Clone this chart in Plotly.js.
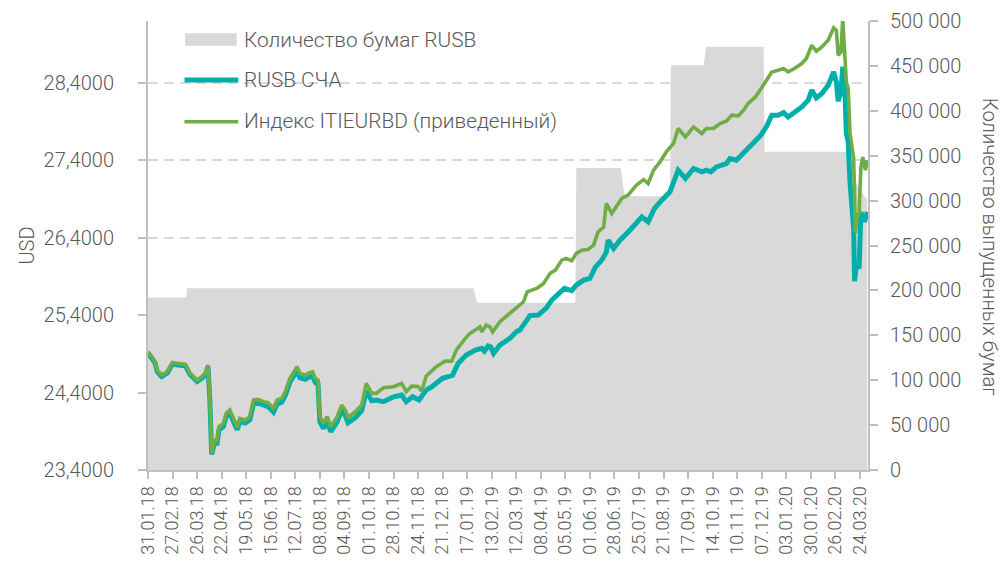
<!DOCTYPE html>
<html><head><meta charset="utf-8">
<script src="https://cdn.plot.ly/plotly-3.0.1.min.js"></script>
<style>html,body{margin:0;padding:0;background:#fff}#chart{width:1002px;height:563px}</style>
</head><body><div id="chart"></div>
<script>
const seriesNames = ['Количество бумаг RUSB', 'RUSB СЧА', 'Индекс ITIEURBD (приведенный)'];
const leftAxisTitle = 'USD';
const rightAxisTitle = 'Количество выпущенных бумаг';

const sharesDates = ['2018-01-31','2018-03-14','2018-03-15','2019-01-24','2019-01-28','2019-05-16','2019-05-17','2019-07-05','2019-07-09','2019-08-28','2019-08-29','2019-10-04','2019-10-07','2019-12-09','2019-12-10','2020-03-17','2020-03-20','2020-04-01'];
const sharesValues = [192000,192000,202500,202500,186300,186300,336300,336300,304800,304800,450800,450800,471400,471400,354400,354400,320000,300000];

const navDates = ['2018-01-31','2018-02-04','2018-02-08','2018-02-10','2018-02-15','2018-02-21','2018-02-27','2018-03-05','2018-03-13','2018-03-18','2018-03-26','2018-03-31','2018-04-04','2018-04-07','2018-04-09','2018-04-11','2018-04-14','2018-04-17','2018-04-19','2018-04-24','2018-04-27','2018-05-01','2018-05-05','2018-05-09','2018-05-12','2018-05-18','2018-05-23','2018-05-27','2018-06-01','2018-06-07','2018-06-12','2018-06-18','2018-06-22','2018-06-27','2018-07-01','2018-07-06','2018-07-14','2018-07-17','2018-07-23','2018-07-26','2018-07-31','2018-08-03','2018-08-06','2018-08-08','2018-08-12','2018-08-16','2018-08-20','2018-08-27','2018-09-01','2018-09-05','2018-09-08','2018-09-16','2018-09-23','2018-09-28','2018-10-04','2018-10-09','2018-10-17','2018-10-28','2018-11-06','2018-11-11','2018-11-18','2018-11-25','2018-12-03','2018-12-10','2018-12-21','2019-01-01','2019-01-07','2019-01-16','2019-01-26','2019-02-02','2019-02-05','2019-02-09','2019-02-12','2019-02-15','2019-02-22','2019-03-05','2019-03-12','2019-03-16','2019-03-24','2019-03-27','2019-04-05','2019-04-14','2019-04-20','2019-04-29','2019-05-04','2019-05-12','2019-05-17','2019-05-25','2019-06-01','2019-06-07','2019-06-14','2019-06-19','2019-06-21','2019-06-27','2019-07-04','2019-07-15','2019-07-28','2019-08-04','2019-08-11','2019-08-19','2019-08-28','2019-09-06','2019-09-14','2019-09-23','2019-10-02','2019-10-07','2019-10-12','2019-10-18','2019-10-29','2019-11-02','2019-11-09','2019-11-18','2019-11-27','2019-12-06','2019-12-12','2019-12-18','2019-12-25','2019-12-31','2020-01-05','2020-01-12','2020-01-20','2020-01-27','2020-01-31','2020-02-05','2020-02-11','2020-02-18','2020-02-24','2020-02-27','2020-02-29','2020-03-03','2020-03-05','2020-03-07','2020-03-09','2020-03-11','2020-03-13','2020-03-17','2020-03-18','2020-03-20','2020-03-23','2020-03-25','2020-03-29','2020-04-01'];
const navValues = [24.915,24.843,24.778,24.671,24.606,24.649,24.770,24.757,24.748,24.636,24.542,24.584,24.628,24.736,24.316,23.600,23.747,23.747,23.919,23.963,24.092,24.135,24.027,23.919,24.027,24.006,24.048,24.254,24.263,24.232,24.219,24.147,24.254,24.276,24.361,24.534,24.679,24.593,24.571,24.593,24.614,24.529,24.507,24.023,23.938,24.023,23.894,24.023,24.169,24.105,24.010,24.078,24.164,24.419,24.295,24.304,24.282,24.346,24.368,24.282,24.346,24.304,24.433,24.484,24.584,24.626,24.777,24.885,24.949,24.971,24.936,25.001,24.988,24.907,25.014,25.100,25.185,25.207,25.337,25.395,25.401,25.491,25.595,25.698,25.746,25.717,25.788,25.853,25.875,26.021,26.111,26.214,26.369,26.262,26.369,26.498,26.670,26.606,26.779,26.886,26.993,27.273,27.166,27.295,27.251,27.273,27.251,27.316,27.359,27.424,27.402,27.509,27.618,27.725,27.832,27.983,27.983,28.018,27.961,28.026,28.090,28.177,28.306,28.206,28.263,28.370,28.542,28.413,28.164,28.284,28.607,28.413,27.747,27.638,27.122,26.520,25.840,26.047,26.004,26.731,26.606,26.735];

const indexDates = ['2018-01-31','2018-02-04','2018-02-08','2018-02-10','2018-02-15','2018-02-21','2018-02-27','2018-03-05','2018-03-13','2018-03-18','2018-03-26','2018-03-31','2018-04-04','2018-04-07','2018-04-09','2018-04-11','2018-04-14','2018-04-17','2018-04-19','2018-04-24','2018-04-27','2018-05-01','2018-05-05','2018-05-09','2018-05-12','2018-05-18','2018-05-23','2018-05-27','2018-06-01','2018-06-07','2018-06-12','2018-06-18','2018-06-22','2018-06-27','2018-07-01','2018-07-06','2018-07-14','2018-07-17','2018-07-23','2018-07-26','2018-07-31','2018-08-03','2018-08-06','2018-08-08','2018-08-12','2018-08-16','2018-08-20','2018-08-27','2018-09-01','2018-09-05','2018-09-08','2018-09-16','2018-09-23','2018-09-28','2018-10-04','2018-10-09','2018-10-17','2018-10-28','2018-11-06','2018-11-11','2018-11-17','2018-11-24','2018-11-28','2018-12-03','2018-12-14','2018-12-24','2018-12-31','2019-01-05','2019-01-15','2019-01-20','2019-01-26','2019-01-31','2019-02-02','2019-02-07','2019-02-11','2019-02-14','2019-02-22','2019-03-03','2019-03-12','2019-03-20','2019-03-24','2019-03-29','2019-04-04','2019-04-11','2019-04-18','2019-04-24','2019-05-01','2019-05-06','2019-05-12','2019-05-17','2019-05-23','2019-05-30','2019-06-05','2019-06-10','2019-06-16','2019-06-19','2019-06-25','2019-07-06','2019-07-13','2019-07-22','2019-07-30','2019-08-04','2019-08-10','2019-08-17','2019-08-24','2019-09-01','2019-09-06','2019-09-14','2019-09-23','2019-10-02','2019-10-07','2019-10-15','2019-10-22','2019-10-29','2019-11-04','2019-11-11','2019-11-17','2019-11-22','2019-11-30','2019-12-05','2019-12-12','2019-12-18','2019-12-25','2019-12-31','2020-01-05','2020-01-12','2020-01-20','2020-01-25','2020-01-31','2020-02-05','2020-02-11','2020-02-18','2020-02-24','2020-02-27','2020-02-29','2020-03-03','2020-03-05','2020-03-06','2020-03-09','2020-03-11','2020-03-13','2020-03-17','2020-03-19','2020-03-21','2020-03-23','2020-03-25','2020-03-27','2020-03-30','2020-04-01'];
const indexValues = [24.927,24.863,24.798,24.691,24.626,24.669,24.790,24.777,24.768,24.656,24.562,24.604,24.648,24.756,24.346,23.616,23.787,23.787,23.959,24.003,24.132,24.175,24.067,23.959,24.067,24.046,24.088,24.304,24.313,24.282,24.269,24.197,24.304,24.326,24.411,24.584,24.734,24.648,24.626,24.648,24.669,24.584,24.562,24.088,24.003,24.088,23.959,24.088,24.239,24.175,24.080,24.153,24.239,24.519,24.390,24.390,24.462,24.475,24.519,24.411,24.484,24.480,24.420,24.614,24.734,24.807,24.807,24.949,25.100,25.165,25.207,25.250,25.185,25.272,25.250,25.185,25.315,25.401,25.487,25.573,25.702,25.724,25.750,25.810,25.939,25.982,26.111,26.133,26.102,26.198,26.240,26.249,26.305,26.476,26.537,26.843,26.714,26.908,26.950,27.079,27.153,27.101,27.273,27.380,27.509,27.618,27.811,27.703,27.832,27.747,27.811,27.811,27.876,27.905,27.983,27.974,28.048,28.134,28.219,28.306,28.435,28.542,28.564,28.586,28.542,28.586,28.650,28.715,28.887,28.809,28.865,28.951,29.110,29.080,28.758,28.800,29.230,28.973,28.409,28.332,27.751,27.428,26.460,26.692,26.718,27.312,27.441,27.273,27.402];

const textColor = '#595959';
const axisColor = '#BFBFBF';
const tealColor = '#00AFAA';
const greenColor = '#70AD47';
const fillGray = '#D9D9D9';
const fontFamily = 'Roboto, "DejaVu Sans", sans-serif';

const traces = [
  {type:'scatter', mode:'lines', name:seriesNames[0], x:sharesDates, y:sharesValues, yaxis:'y',
   fill:'tozeroy', fillcolor:fillGray, line:{width:0, color:fillGray}, showlegend:false, hoverinfo:'skip'},
  {type:'scatter', mode:'lines', name:seriesNames[1], x:navDates, y:navValues, yaxis:'y2',
   line:{color:tealColor, width:5}, showlegend:false},
  {type:'scatter', mode:'lines', name:seriesNames[2], x:indexDates, y:indexValues, yaxis:'y2',
   line:{color:greenColor, width:3.6}, showlegend:false}
];

const L = 148, R = 868, T = 21, B = 470;
const px = v => (v - L) / (R - L);
const py = v => (B - v) / (B - T);
const tickFont = {size:20, color:textColor, family:fontFamily, weight:300};
const legendFont = {size:20.8, color:textColor, family:fontFamily, weight:300};

const layout = {
  width:1002, height:563,
  margin:{l:L, r:1002-R, t:T, b:563-B, pad:0},
  paper_bgcolor:'#fff', plot_bgcolor:'#fff',
  separators:', ',
  font:{family:fontFamily, size:19, color:textColor, weight:300},
  showlegend:false,
  xaxis:{type:'date', range:['2018-01-31','2020-04-01 19:00'], tick0:'2018-01-31', dtick:27*86400000,
    tickformat:'%d.%m.%y', tickangle:-90, ticks:'outside', ticklen:7, tickwidth:2, tickcolor:axisColor,
    showline:true, linecolor:axisColor, linewidth:2, showgrid:false, zeroline:false,
    tickfont:{size:18, color:textColor, family:fontFamily, weight:300}},
  yaxis:{side:'right', range:[0,500000], tick0:0, dtick:50000, tickformat:',d', showgrid:false, zeroline:false,
    showline:true, linecolor:axisColor, linewidth:2, ticks:'outside', ticklen:8, tickwidth:2, tickcolor:axisColor,
    ticklabelstandoff:8, tickfont:tickFont},
  yaxis2:{overlaying:'y', side:'left', range:[23.4,29.2], tick0:23.4, dtick:1, tickformat:'.4f',
    showgrid:true, gridcolor:fillGray, gridwidth:2, griddash:'10px,6px', zeroline:false,
    showline:true, linecolor:axisColor, linewidth:2, ticks:'outside', ticklen:8, tickwidth:2, tickcolor:axisColor,
    ticklabelstandoff:20, tickfont:tickFont,
    title:{text:leftAxisTitle, standoff:4, font:{size:20, color:textColor, family:fontFamily, weight:300}}},
  shapes:[
    {type:'rect', xref:'paper', yref:'paper', x0:px(172), x1:px(569), y0:py(140), y1:py(T), layer:'below', fillcolor:'#fff', line:{width:0}},
    {type:'rect', xref:'paper', yref:'paper', x0:px(185), x1:px(236.7), y0:py(45.7), y1:py(33.3), layer:'above', fillcolor:fillGray, line:{width:0}},
    {type:'line', xref:'paper', yref:'paper', x0:px(184.5), x1:px(238.3), y0:py(80), y1:py(80), layer:'above', line:{color:tealColor, width:5}},
    {type:'line', xref:'paper', yref:'paper', x0:px(184.5), x1:px(238.3), y0:py(121.7), y1:py(121.7), layer:'above', line:{color:greenColor, width:3.6}}
  ],
  annotations:[
    {xref:'paper', yref:'paper', x:px(242), y:py(39.5), xanchor:'left', yanchor:'middle', showarrow:false, text:seriesNames[0], font:legendFont},
    {xref:'paper', yref:'paper', x:px(242), y:py(80), xanchor:'left', yanchor:'middle', showarrow:false, text:seriesNames[1], font:legendFont},
    {xref:'paper', yref:'paper', x:px(242), y:py(121), xanchor:'left', yanchor:'middle', showarrow:false, text:seriesNames[2], font:legendFont},
    {xref:'paper', yref:'paper', x:px(990), y:py(246.7), xanchor:'center', yanchor:'middle', textangle:90, showarrow:false, text:rightAxisTitle, font:{size:20.3, color:textColor, family:fontFamily, weight:300}}
  ]
};

Plotly.newPlot('chart', traces, layout, {displayModeBar:false, staticPlot:true});
</script>
</body></html>
